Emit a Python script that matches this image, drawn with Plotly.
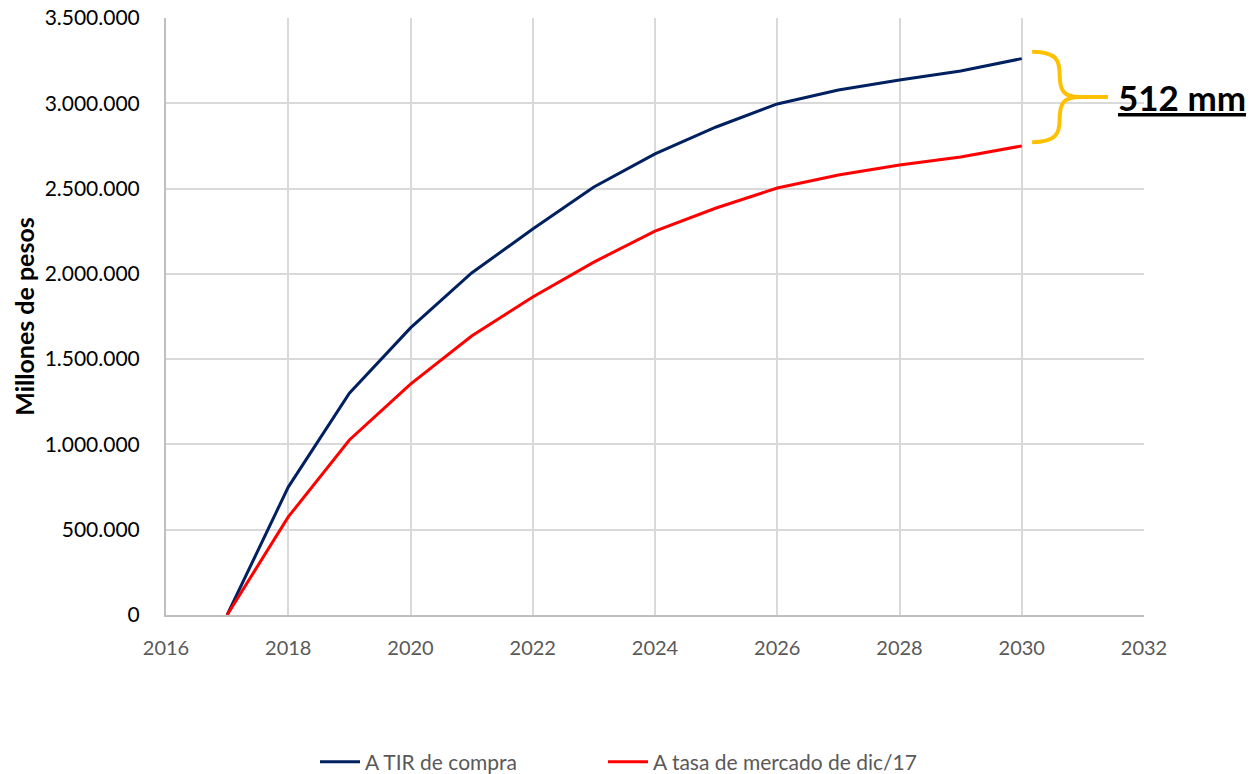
import plotly.graph_objects as go

years = list(range(2017, 2031))
tir_compra = [0, 750000, 1300000, 1683000, 2005000, 2263000, 2509000, 2703000,
              2861000, 2996000, 3078000, 3136000, 3189000, 3262000]
tasa_mercado = [0, 575000, 1026000, 1354000, 1636000, 1864000, 2069000, 2251000,
                2386000, 2503000, 2580000, 2638000, 2685000, 2750000]
names = ["A TIR de compra", "A tasa de mercado de dic/17"]
colors = ["#002060", "#FF0000"]
diff_label = "512 mm"

FONT = "Lato"

fig = go.Figure()
fig.add_trace(go.Scatter(x=years, y=tir_compra, mode="lines", name=names[0],
                         line=dict(color=colors[0], width=3), legend="legend"))
fig.add_trace(go.Scatter(x=years, y=tasa_mercado, mode="lines", name=names[1],
                         line=dict(color=colors[1], width=3), legend="legend2"))

# curly brace between the two end values
yt = tir_compra[-1] + 40000
yb = tasa_mercado[-1] + 22000
ym = (yt + yb) / 2
h = yt - yb
x0, xc, xk, xt = 2030.17, 2030.62, 2030.95, 2031.41
def Y(f):
    return yt - f * h
path = (f"M {x0},{Y(0)} C {xc - 0.05},{Y(0)} {xc},{Y(0.1)} {xc},{Y(0.25)} "
        f"C {xc},{Y(0.42)} {xc + 0.05},{Y(0.5)} {xk},{Y(0.5)} L {xt},{Y(0.5)} "
        f"M {xk},{Y(0.5)} C {xc + 0.05},{Y(0.5)} {xc},{Y(0.58)} {xc},{Y(0.75)} "
        f"C {xc},{Y(0.9)} {xc - 0.05},{Y(1)} {x0},{Y(1)}")
fig.add_shape(type="path", path=path, xref="x", yref="y",
              line=dict(color="#FFC000", width=4), layer="above")
fig.add_annotation(x=2031.55, y=ym, xref="x", yref="y", xanchor="left",
                   yanchor="middle", showarrow=False,
                   text=f"<b><u>{diff_label}</u></b>",
                   font=dict(family=FONT, size=35, color="#000000"))

leg_common = dict(orientation="h", xref="container", yref="container",
                  xanchor="left", y=0.0155, yanchor="middle",
                  font=dict(family=FONT, size=21, color="#595959"),
                  itemwidth=40, bgcolor="rgba(0,0,0,0)")

fig.update_layout(
    width=1251, height=774,
    margin=dict(l=166, r=107, t=18, b=159, autoexpand=False),
    paper_bgcolor="white", plot_bgcolor="white",
    separators=",.",
    font=dict(family=FONT, color="#000000"),
    showlegend=True,
    legend=dict(x=315 / 1251, **leg_common),
    legend2=dict(x=603 / 1251, **leg_common),
)
fig.update_xaxes(range=[2016, 2032], dtick=2, tick0=2016, automargin=False,
                 showgrid=True, gridcolor="#D9D9D9", gridwidth=2,
                 showline=True, linecolor="#BFBFBF", linewidth=2,
                 zeroline=False,
                 ticks="outside", ticklen=14, tickcolor="rgba(0,0,0,0)",
                 tickfont=dict(family=FONT, size=20, color="#595959"))
fig.update_yaxes(range=[0, 3500000], dtick=500000, tickformat=",d", automargin=False,
                 showgrid=True, gridcolor="#D9D9D9", gridwidth=2,
                 showline=True, linecolor="#BFBFBF", linewidth=2,
                 zeroline=False,
                 ticks="outside", ticklen=20, tickcolor="rgba(0,0,0,0)",
                 tickfont=dict(family=FONT, size=21, color="#000000"),
                 title=dict(text="<b>Millones de pesos</b>", standoff=3,
                            font=dict(family=FONT, size=25, color="#000000")))

fig.write_html("out.html")
